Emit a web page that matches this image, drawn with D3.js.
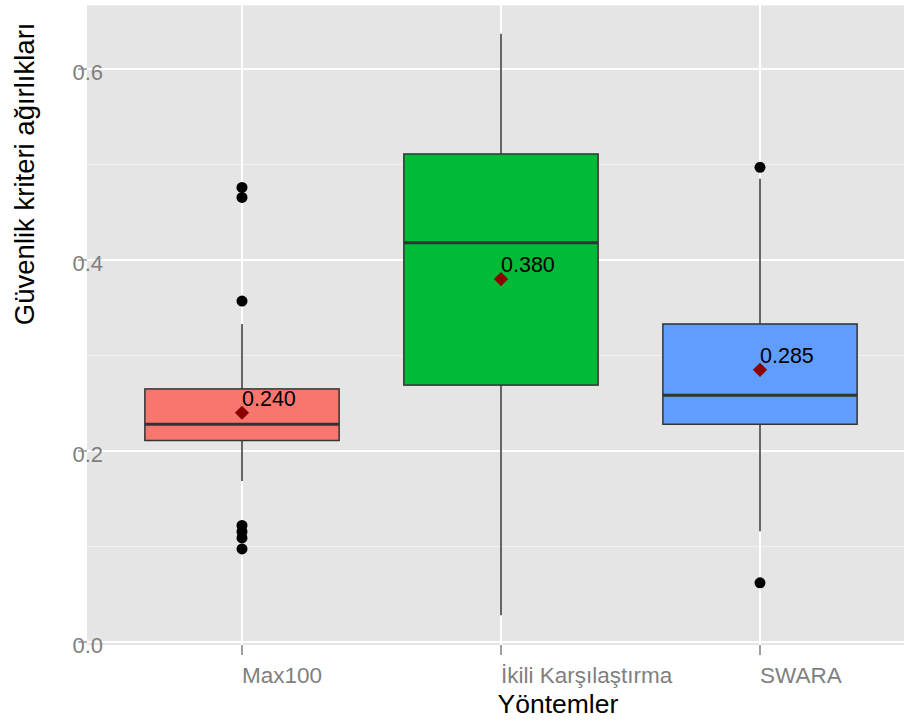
<!DOCTYPE html>
<html>
<head>
<meta charset="utf-8">
<script src="https://cdn.jsdelivr.net/npm/d3@7"></script>
<style>
  body { margin: 0; background: #ffffff; }
  svg { display: block; font-family: "Liberation Sans", Arial, sans-serif; }
</style>
</head>
<body>
<div id="container"></div>
<script>
/* DATA */
const categories = ["Max100", "İkili Karşılaştırma", "SWARA"];
const fills = ["#F8766D", "#00BA38", "#619CFF"];
const q1 = [0.211, 0.269, 0.228];
const medians = [0.228, 0.418, 0.2585];
const q3 = [0.265, 0.511, 0.333];
const whiskerLow = [0.1685, 0.028, 0.116];
const whiskerHigh = [0.333, 0.637, 0.485];
const means = [0.240, 0.380, 0.285];
const outliers = [
  [0.476, 0.4655, 0.357, 0.122, 0.1155, 0.109, 0.0975],
  [],
  [0.497, 0.062]
];
const yTicks = [0.0, 0.2, 0.4, 0.6];
const yMinor = [0.1, 0.3, 0.5];

/* CONSTANTS */
const width = 904, height = 721;
const panel = { left: 87, right: 904 };

const svg = d3.select("#container")
  .append("svg")
  .attr("width", width)
  .attr("height", height);

/* SCALES */
const y = d3.scaleLinear()
  .domain([0, 0.6])
  .range([642, 69]);

const x = d3.scalePoint()
  .domain(categories)
  .range([242, 760]);

const step = x.step();
const boxW = step * 0.75;

const panelTop = y(0.6667), panelBottom = y(-0.0031);

/* PANEL */
svg.append("rect")
  .attr("x", panel.left)
  .attr("y", panelTop)
  .attr("width", panel.right - panel.left)
  .attr("height", panelBottom - panelTop)
  .attr("fill", "#E5E5E5");

// minor grid
svg.selectAll("line.minor")
  .data(yMinor)
  .join("line")
  .attr("class", "minor")
  .attr("x1", panel.left).attr("x2", panel.right)
  .attr("y1", d => y(d)).attr("y2", d => y(d))
  .attr("stroke", "#F2F2F2")
  .attr("stroke-width", 1);

// major grid
svg.selectAll("line.major")
  .data(yTicks)
  .join("line")
  .attr("class", "major")
  .attr("x1", panel.left).attr("x2", panel.right)
  .attr("y1", d => y(d)).attr("y2", d => y(d))
  .attr("stroke", "#ffffff")
  .attr("stroke-width", 2);

svg.selectAll("line.vgrid")
  .data(categories)
  .join("line")
  .attr("class", "vgrid")
  .attr("x1", d => x(d)).attr("x2", d => x(d))
  .attr("y1", panelTop).attr("y2", panelBottom)
  .attr("stroke", "#ffffff")
  .attr("stroke-width", 2);

/* BOXES */
const rows = categories.map((c, i) => ({
  cat: c, fill: fills[i], q1: q1[i], med: medians[i], q3: q3[i],
  lo: whiskerLow[i], hi: whiskerHigh[i], mean: means[i], out: outliers[i]
}));

const g = svg.selectAll("g.box")
  .data(rows)
  .join("g")
  .attr("class", "box");

// whiskers
g.append("line")
  .attr("x1", d => x(d.cat)).attr("x2", d => x(d.cat))
  .attr("y1", d => y(d.hi)).attr("y2", d => y(d.q3))
  .attr("stroke", "#333333").attr("stroke-width", 1.5);
g.append("line")
  .attr("x1", d => x(d.cat)).attr("x2", d => x(d.cat))
  .attr("y1", d => y(d.q1)).attr("y2", d => y(d.lo))
  .attr("stroke", "#333333").attr("stroke-width", 1.5);

g.append("rect")
  .attr("x", d => x(d.cat) - boxW / 2)
  .attr("y", d => y(d.q3))
  .attr("width", boxW)
  .attr("height", d => y(d.q1) - y(d.q3))
  .attr("fill", d => d.fill)
  .attr("stroke", "#333333")
  .attr("stroke-width", 1.5);

g.append("line")
  .attr("x1", d => x(d.cat) - boxW / 2).attr("x2", d => x(d.cat) + boxW / 2)
  .attr("y1", d => y(d.med)).attr("y2", d => y(d.med))
  .attr("stroke", "#333333").attr("stroke-width", 3);

// outliers
g.selectAll("circle")
  .data(d => d.out.map(v => ({ cat: d.cat, v })))
  .join("circle")
  .attr("cx", d => x(d.cat))
  .attr("cy", d => y(d.v))
  .attr("r", 5.5)
  .attr("fill", "#000000");

// means
g.append("path")
  .attr("d", d3.symbol(d3.symbolSquare, 100))
  .attr("transform", d => `translate(${x(d.cat)},${y(d.mean)}) rotate(45)`)
  .attr("fill", "#8B0000");

g.append("text")
  .attr("x", d => x(d.cat))
  .attr("y", d => y(d.mean) - 7)
  .attr("font-size", 21.5)
  .attr("fill", "#000000")
  .text(d => d3.format(".3f")(d.mean));

/* AXES */
svg.selectAll("text.ylab")
  .data(yTicks)
  .join("text")
  .attr("class", "ylab")
  .attr("x", 103)
  .attr("y", d => y(d) + 11)
  .attr("text-anchor", "end")
  .attr("font-size", 22)
  .attr("fill", "#7F7F7F")
  .text(d => d3.format(".1f")(d));

svg.selectAll("line.ytick")
  .data(yTicks)
  .join("line")
  .attr("class", "ytick")
  .attr("x1", 78).attr("x2", panel.left)
  .attr("y1", d => y(d)).attr("y2", d => y(d))
  .attr("stroke", "#7F7F7F").attr("stroke-width", 1.2);

svg.selectAll("line.xtick")
  .data(categories)
  .join("line")
  .attr("class", "xtick")
  .attr("x1", d => x(d)).attr("x2", d => x(d))
  .attr("y1", panelBottom).attr("y2", panelBottom + 10)
  .attr("stroke", "#7F7F7F").attr("stroke-width", 1.5);

svg.selectAll("text.xlab")
  .data(categories)
  .join("text")
  .attr("class", "xlab")
  .attr("x", d => x(d))
  .attr("y", 683)
  .attr("font-size", 22.5)
  .attr("fill", "#7F7F7F")
  .text(d => d);

/* AXIS TITLES */
svg.append("text")
  .attr("x", (panel.left + panel.right) / 2 + 2)
  .attr("y", 713)
  .attr("font-size", 26.5)
  .attr("fill", "#000000")
  .text("Yöntemler");

svg.append("text")
  .attr("transform", `translate(34, ${(panelTop + panelBottom) / 2}) rotate(-90)`)
  .attr("font-size", 27.5)
  .attr("fill", "#000000")
  .text("Güvenlik kriteri ağırlıkları");
</script>
</body>
</html>
